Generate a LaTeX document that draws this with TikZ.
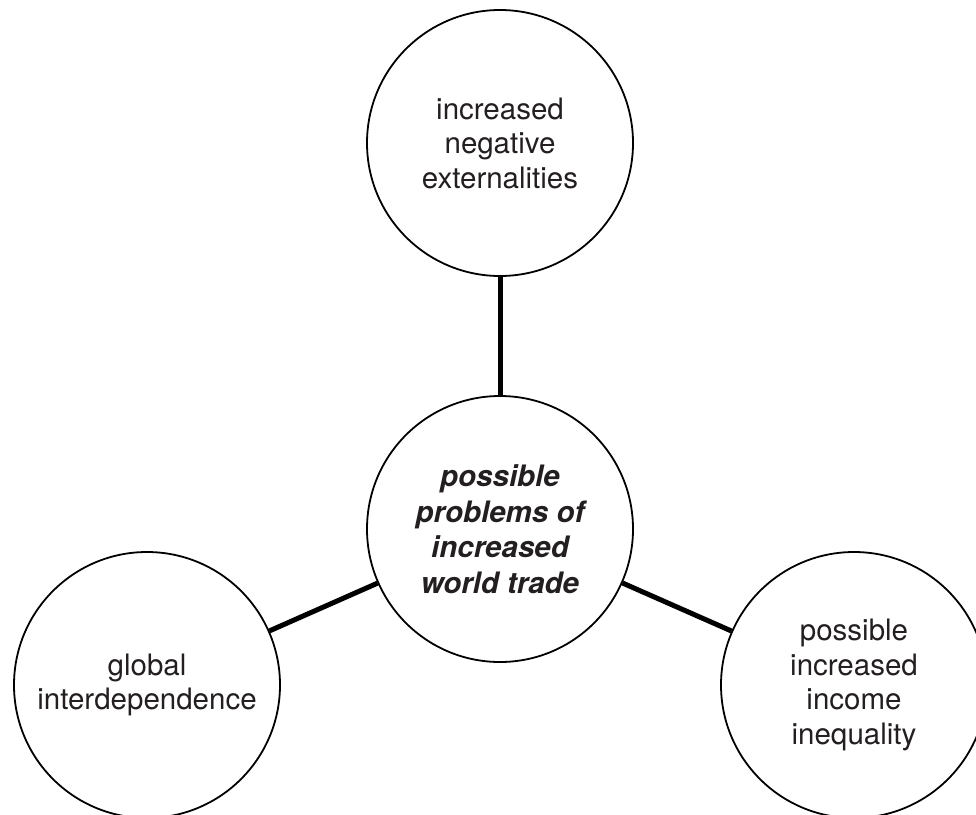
\documentclass[tikz,border=0pt]{standalone}
\usepackage{fontspec}
\setmainfont{TeX Gyre Heros}
\definecolor{txt}{RGB}{35,31,32}
\tikzset{
  bubble/.style={circle, draw=black, line width=1.8pt, fill=white, minimum size=266pt, inner sep=0pt,
    align=center, text=txt, font=\fontsize{29.5}{34.5}\selectfont},
  hub/.style={bubble, font=\fontsize{29.5}{35.5}\selectfont\bfseries\itshape},
  link/.style={line width=5pt, black}
}
\begin{document}
\begin{tikzpicture}[x=1pt, y=-1pt]
\useasboundingbox (0,0) rectangle (976,814);
\clip (0,0) rectangle (976,814);
\fill[white] (0,0) rectangle (976,814);
\node[bubble] (top) at (500,143) {increased\\negative\\externalities};
\node[hub] (mid) at (500,529) {possible\\problems of\\increased\\world trade};
\node[bubble] (left) at (147,685) {global\\interdependence};
\node[bubble] (right) at (854,685) {possible\\increased\\income\\inequality};
\draw[link] (top) -- (mid);
\draw[link] (mid) -- (left);
\draw[link] (mid) -- (right);
\end{tikzpicture}
\end{document}
